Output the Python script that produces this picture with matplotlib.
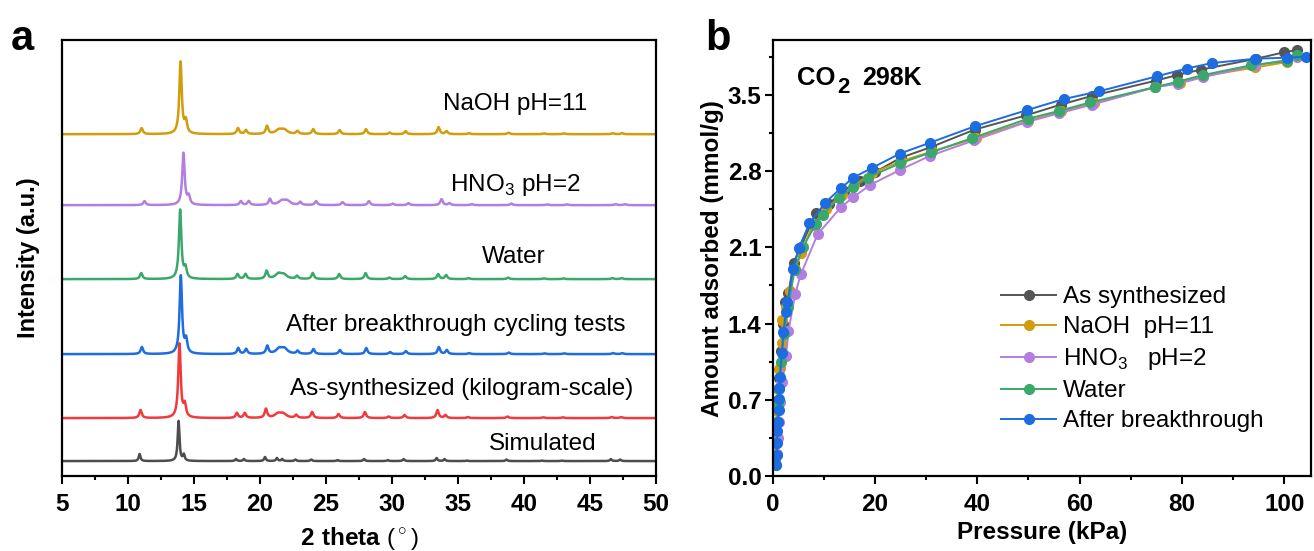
import matplotlib
matplotlib.use('Agg')
import matplotlib.pyplot as plt
import numpy as np
from matplotlib.ticker import MultipleLocator, FormatStrFormatter

plt.rcParams['font.family'] = ['Liberation Sans', 'DejaVu Sans']
plt.rcParams['mathtext.fontset'] = 'custom'
plt.rcParams['mathtext.rm'] = 'Liberation Sans'
plt.rcParams['mathtext.bf'] = 'Liberation Sans:bold'

# ---- panel a: PXRD ----
xrd_names = ['Simulated', 'As-synthesized (kilogram-scale)', 'After breakthrough cycling tests',
             'Water', 'HNO$_3$ pH=2', 'NaOH pH=11']
xrd_colors = ['#4d4d4d', '#f03a3c', '#1d6ce0', '#3aa86a', '#b27ee0', '#d19d0c']
xrd_offsets = [15, 58, 122, 197, 271, 342]
xrd_shift = [-0.12, -0.05, 0.05, 0.0, 0.25, 0.03]
peak_pos = [11.0, 13.95, 14.35, 18.3, 18.9, 20.5, 21.4, 21.8, 22.8, 24.0, 26.0, 28.0,
            29.8, 31.0, 33.5, 34.1, 35.8, 38.8, 41.5, 43.0, 46.7, 47.4]
peak_sim = [7, 40, 6, 2, 2, 4, 3, 2, 1.5, 1.5, 1, 2, 1, 2, 3, 2, 0.5, 1.5, 0.5, 0.5, 2, 1.5]
peak_as = [8, 74, 12, 5, 5, 9, 4, 4, 3, 6, 4, 6, 1.5, 3, 8, 3, 1, 1.5, 0.8, 0.8, 1, 1]
peak_after = [7, 78, 13, 6, 5, 8, 5, 5, 3, 5, 4, 6, 2, 3, 7, 4, 1, 1.5, 0.8, 0.8, 1, 1]
peak_water = [6, 69, 10, 5, 5, 8, 5, 4, 3, 6, 5, 6, 1.5, 3, 5, 4, 1, 1.5, 0.8, 0.8, 1, 1]
peak_hno3 = [4, 52, 8, 4, 4, 6, 4, 4, 3, 4, 3, 4, 1.5, 2, 6, 2, 1, 1.5, 0.8, 0.8, 1, 1]
peak_naoh = [6, 72, 12, 6, 4, 8, 4, 4, 3, 5, 4, 5, 1.5, 3, 7, 3, 1, 1.5, 0.8, 0.8, 1, 1]
peak_heights = [peak_sim, peak_as, peak_after, peak_water, peak_hno3, peak_naoh]
label_x = [41.4, 35.3, 34.8, 39.2, 39.3, 39.3]
label_y = [32, 87, 151, 219, 291, 372]

# ---- panel b: CO2 isotherms ----
p_as = [0.5, 0.7, 0.9, 1.1, 1.3, 1.6, 2.0, 2.5, 3.1, 4.1, 5.5, 8.4, 11, 14, 17, 20, 25, 31,
        39.5, 49.5, 56.4, 62.5, 75, 79, 83.7, 94.5, 100, 102.5]
q_as = [0.12, 0.3, 0.5, 0.7, 0.9, 1.15, 1.4, 1.6, 1.68, 1.96, 2.1, 2.41, 2.5, 2.62, 2.71, 2.79,
        2.92, 3.02, 3.18, 3.31, 3.41, 3.49, 3.63, 3.68, 3.73, 3.83, 3.89, 3.91]
p_naoh = [0.5, 0.7, 0.9, 1.1, 1.3, 1.5, 1.8, 1.9, 2.6, 3.3, 4.3, 5.6, 7.8, 10.5, 13.5, 16,
          19.4, 25.1, 31.2, 39.7, 50, 56.4, 62.9, 74.8, 79.6, 84.1, 94.3, 100.6]
q_naoh = [0.15, 0.4, 0.6, 0.8, 0.98, 0.99, 1.22, 1.43, 1.55, 1.7, 1.9, 2.05, 2.3, 2.45, 2.58,
          2.67, 2.78, 2.89, 2.98, 3.10, 3.26, 3.35, 3.42, 3.57, 3.61, 3.67, 3.75, 3.80]
p_hno3 = [0.6, 0.8, 1.0, 1.2, 1.5, 1.6, 1.9, 2.4, 2.6, 3.1, 4.4, 5.5, 8.8, 13.4, 15.8, 19,
          24.9, 30.8, 39.3, 49.7, 56, 62.5, 74.8, 79.2, 84.1, 94.3, 100.6, 102.5]
q_hno3 = [0.1, 0.2, 0.35, 0.5, 0.68, 0.87, 0.86, 1.10, 1.10, 1.33, 1.67, 1.85, 2.22, 2.47,
          2.56, 2.67, 2.81, 2.94, 3.08, 3.25, 3.33, 3.41, 3.57, 3.60, 3.66, 3.77, 3.82, 3.85]
p_water = [0.5, 0.7, 0.9, 1.1, 1.3, 1.7, 2.2, 3.0, 4.3, 5.9, 8.4, 9.8, 12.9, 15.8, 18.6, 24.9,
           30.9, 38.9, 49.9, 55.9, 62.1, 74.8, 79.2, 84.1, 93.5, 100.6, 102.4]
q_water = [0.12, 0.3, 0.5, 0.65, 0.8, 1.05, 1.3, 1.55, 1.89, 2.10, 2.31, 2.40, 2.55, 2.65,
           2.74, 2.87, 2.97, 3.10, 3.28, 3.35, 3.43, 3.57, 3.62, 3.68, 3.77, 3.81, 3.86]
p_after = [0.6, 0.8, 0.8, 0.9, 1.0, 1.2, 1.3, 1.3, 1.4, 1.8, 2.1, 2.6, 2.9, 4.0, 5.1, 7.2,
           10.3, 13.3, 15.8, 19.5, 24.9, 30.8, 39.5, 49.8, 56.9, 63.7, 75.2, 80.9, 85.8, 94.3,
           100.6, 104.3]
q_after = [0.10, 0.19, 0.30, 0.41, 0.50, 0.61, 0.71, 0.81, 0.91, 1.13, 1.32, 1.51, 1.60, 1.90,
           2.09, 2.32, 2.51, 2.64, 2.74, 2.83, 2.96, 3.06, 3.21, 3.36, 3.46, 3.53, 3.67, 3.74,
           3.79, 3.83, 3.84, 3.85]
iso_names = ['As synthesized', 'NaOH  pH=11', 'HNO$_3$   pH=2', 'Water', 'After breakthrough']
iso_colors = ['#555555', '#d19d0c', '#b27ee0', '#3aa86a', '#1d6ce0']
iso_p = [p_as, p_naoh, p_hno3, p_water, p_after]
iso_q = [q_as, q_naoh, q_hno3, q_water, q_after]

FS = 17.5


def pattern(x, heights, shift, sim):
    y = np.zeros_like(x)
    for pos, h in zip(peak_pos, heights):
        w = 0.08 if sim else 0.11
        if 21 < pos < 22.5 and not sim:
            w = 0.28
        y += h / (1 + ((x - pos - shift) / w) ** 2)
    return y


fig = plt.figure(figsize=(13.14, 5.51), dpi=100)
ax1 = fig.add_axes([0.0472, 0.136, 0.452, 0.791])
ax2 = fig.add_axes([0.588, 0.136, 0.410, 0.791])

x = np.linspace(5, 50, 6000)
for i, name in enumerate(xrd_names):
    y = pattern(x, peak_heights[i], xrd_shift[i], i == 0) + xrd_offsets[i]
    ax1.plot(x, y, color=xrd_colors[i], lw=1.8)
    ax1.text(label_x[i], label_y[i], name, ha='center', va='center', fontsize=FS)

ax1.set_xlim(5, 50)
ax1.set_ylim(0, 436)
ax1.set_yticks([])
ax1.xaxis.set_major_locator(MultipleLocator(5))
ax1.xaxis.set_minor_locator(MultipleLocator(2.5))
ax1.set_xlabel(r'$\mathbf{2\ theta}$ ($^\circ$)', fontsize=FS, labelpad=7)
ax1.set_ylabel('Intensity (a.u.)', fontsize=17, fontweight='bold', labelpad=16)

for i, name in enumerate(iso_names):
    ax2.plot(iso_p[i], iso_q[i], '-o', color=iso_colors[i], lw=1.4, ms=7,
             mec=iso_colors[i], label=name)
ax2.set_xlim(0, 105.3)
ax2.set_ylim(0, 4.0)
ax2.xaxis.set_major_locator(MultipleLocator(20))
ax2.xaxis.set_minor_locator(MultipleLocator(10))
ax2.yaxis.set_major_locator(MultipleLocator(0.7))
ax2.yaxis.set_minor_locator(MultipleLocator(0.35))
ax2.yaxis.set_major_formatter(FormatStrFormatter('%.1f'))
ax2.set_xlabel('Pressure (kPa)', fontsize=FS, fontweight='bold', labelpad=4)
ax2.set_ylabel('Amount adsorbed (mmol/g)', fontsize=FS, fontweight='bold', labelpad=3)

# CO2 298K title, subscript drawn nearly full size as in the original
ax2.text(0.0445, 0.898, 'CO', transform=ax2.transAxes, fontsize=18.5, fontweight='bold',
         va='baseline')
ax2.text(0.1195, 0.880, '2', transform=ax2.transAxes, fontsize=16, fontweight='bold',
         va='baseline')
ax2.text(0.166, 0.898, '298K', transform=ax2.transAxes, fontsize=18, fontweight='bold',
         va='baseline')

ax2.legend(loc='upper left', bbox_to_anchor=(0.424, 0.436), frameon=False, fontsize=FS,
           handlelength=2.26, labelspacing=0.33, handletextpad=0.3, borderaxespad=0,
           borderpad=0)

for ax in (ax1, ax2):
    for s in ax.spines.values():
        s.set_linewidth(1.6)
    ax.tick_params(which='major', direction='out', length=6, width=1.5, labelsize=FS, pad=6)
    ax.tick_params(which='minor', direction='out', length=3, width=1.5)
    for lab in ax.get_xticklabels() + ax.get_yticklabels():
        lab.set_fontweight('bold')
ax2.tick_params(axis='y', which='major', pad=2)

fig.text(0.008, 0.93, 'a', fontsize=30, fontweight='bold', va='center')
fig.text(0.537, 0.93, 'b', fontsize=30, fontweight='bold', va='center')

fig.savefig('out.png', dpi=100)
